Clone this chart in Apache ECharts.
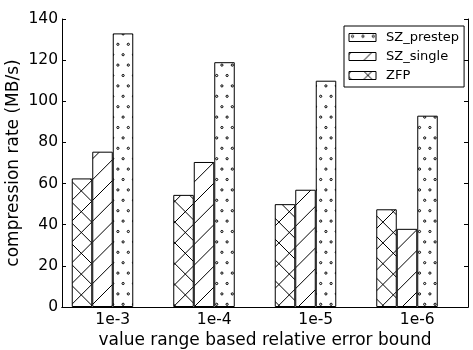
<!DOCTYPE html>
<html>
<head>
<meta charset="utf-8">
<script src="https://cdn.jsdelivr.net/npm/echarts@6/dist/echarts.min.js"></script>
<style>
  html, body { margin: 0; padding: 0; background: #fff; }
  #chart { width: 473px; height: 350px; }
</style>
</head>
<body>
<div id="chart"></div>
<script>
// Error bounds on the x axis
const categories = ['1e-3', '1e-4', '1e-5', '1e-6'];

// Compression rate (MB/s) per error bound
const zfp       = [62.5, 54.5, 50, 47.5];
const szSingle  = [75.5, 70.5, 57, 38];
const szPrestep = [133, 119, 110, 93];

// Y axis range and tick step
const yMin = 0;
const yMax = 140;
const yStep = 20;

const FONT = 'DejaVu Sans';

// Hatch tiles: 104px holds 5 line periods (20.8px) and 10 dot rows (10.4px)
const TILE = 104;
const LINE_STEP = 20.8;
const DOT_STEP = 10.4;

function makeTile(draw) {
  const c = document.createElement('canvas');
  c.width = TILE;
  c.height = TILE;
  const g = c.getContext('2d');
  g.fillStyle = '#fff';
  g.fillRect(0, 0, TILE, TILE);
  g.strokeStyle = '#000';
  g.lineWidth = 1;
  draw(g);
  return c;
}

// lines with x + y = const ("/")
function northEast(g, phase) {
  for (let c = phase - LINE_STEP * 2; c < 2 * TILE + LINE_STEP * 2; c += LINE_STEP) {
    g.beginPath();
    g.moveTo(c + TILE, -TILE);
    g.lineTo(c - 2 * TILE, 2 * TILE);
    g.stroke();
  }
}

// lines with x - y = const ("\")
function southEast(g, phase) {
  for (let d = phase - TILE - LINE_STEP * 2; d < TILE + LINE_STEP * 2; d += LINE_STEP) {
    g.beginPath();
    g.moveTo(d - TILE, -TILE);
    g.lineTo(d + 2 * TILE, 2 * TILE);
    g.stroke();
  }
}

// staggered rows of small circles
function dots(g) {
  g.strokeStyle = '#000';
  g.lineWidth = 1;
  for (let k = 0; k < 10; k++) {
    const y = 2.7 + k * DOT_STEP;
    const off = (k % 2 === 0) ? 3.5 : 8.7;
    for (let j = -1; j <= 10; j++) {
      const x = off + j * DOT_STEP;
      for (const dy of [-TILE, 0, TILE]) {
        g.beginPath();
        g.arc(x, y + dy, 1.1, 0, Math.PI * 2);
        g.stroke();
      }
    }
  }
}

const crossFill = { image: makeTile(g => { northEast(g, 1.8); southEast(g, 15.2); }), repeat: 'repeat' };
const slashFill = { image: makeTile(g => { northEast(g, 1.8); }), repeat: 'repeat' };
const dotFill   = { image: makeTile(dots), repeat: 'repeat' };

const BAR_W = 20.5;

function barSeries(name, data, fill) {
  return {
    type: 'bar',
    name: name,
    data: data,
    barWidth: BAR_W,
    barGap: '0%',
    itemStyle: { color: fill, borderColor: '#000', borderWidth: 1 },
    emphasis: { disabled: true }
  };
}

const axisLineStyle = { color: '#000', width: 1 };
const tickStyle = { inside: true, length: 4, lineStyle: { color: '#000', width: 1 } };

const chart = echarts.init(document.getElementById('chart'), null, { renderer: 'canvas' });

chart.setOption({
  animation: false,
  backgroundColor: '#fff',
  textStyle: { fontFamily: FONT },
  grid: { left: 62, right: 5, top: 19, bottom: 43, containLabel: false, outerBoundsMode: 'none' },
  legend: {
    data: ['SZ_prestep', 'SZ_single', 'ZFP'],
    orient: 'vertical',
    left: 344,
    top: 26,
    itemWidth: 27,
    itemHeight: 8,
    itemGap: 4,
    padding: [4, 5, 4, 4.5],
    borderColor: '#000',
    borderWidth: 1,
    borderRadius: 0,
    backgroundColor: '#fff',
    icon: 'rect',
    itemStyle: { borderColor: '#000', borderWidth: 1 },
    textStyle: { fontFamily: FONT, fontSize: 13, color: '#000', lineHeight: 15, padding: [0, 0, 0, 5] },
    selectedMode: false
  },
  xAxis: [
    {
      type: 'category',
      data: categories,
      position: 'bottom',
      boundaryGap: true,
      axisLine: { lineStyle: axisLineStyle },
      axisTick: Object.assign({ alignWithLabel: true }, tickStyle),
      axisLabel: { color: '#000', fontSize: 15.5, fontFamily: FONT, margin: 5 },
      name: 'value range based relative error bound',
      nameLocation: 'middle',
      nameGap: 25,
      nameMoveOverlap: false,
      nameTextStyle: { color: '#000', fontSize: 17, fontFamily: FONT }
    },
    {
      type: 'category',
      data: categories,
      position: 'top',
      boundaryGap: true,
      axisLine: { lineStyle: axisLineStyle },
      axisTick: Object.assign({ alignWithLabel: true }, tickStyle),
      axisLabel: { show: false }
    }
  ],
  yAxis: [
    {
      type: 'value',
      min: yMin,
      max: yMax,
      interval: yStep,
      position: 'left',
      axisLine: { show: true, lineStyle: axisLineStyle },
      axisTick: Object.assign({ show: true }, tickStyle),
      splitLine: { show: false },
      axisLabel: { color: '#000', fontSize: 15.5, fontFamily: FONT, margin: 4 },
      name: 'compression rate (MB/s)',
      nameLocation: 'middle',
      nameRotate: 90,
      nameGap: 39.5,
      nameMoveOverlap: false,
      nameTextStyle: { color: '#000', fontSize: 17, fontFamily: FONT }
    },
    {
      type: 'value',
      min: yMin,
      max: yMax,
      interval: yStep,
      position: 'right',
      axisLine: { show: true, lineStyle: axisLineStyle },
      axisTick: Object.assign({ show: true }, tickStyle),
      splitLine: { show: false },
      axisLabel: { show: false }
    }
  ],
  series: [
    barSeries('ZFP', zfp, crossFill),
    barSeries('SZ_single', szSingle, slashFill),
    barSeries('SZ_prestep', szPrestep, dotFill),
    // empty slot to the right keeps each group's third bar starting at the tick
    { type: 'bar', name: 'slot', data: [], barWidth: BAR_W, barGap: '0%' }
  ]
});
</script>
</body>
</html>
